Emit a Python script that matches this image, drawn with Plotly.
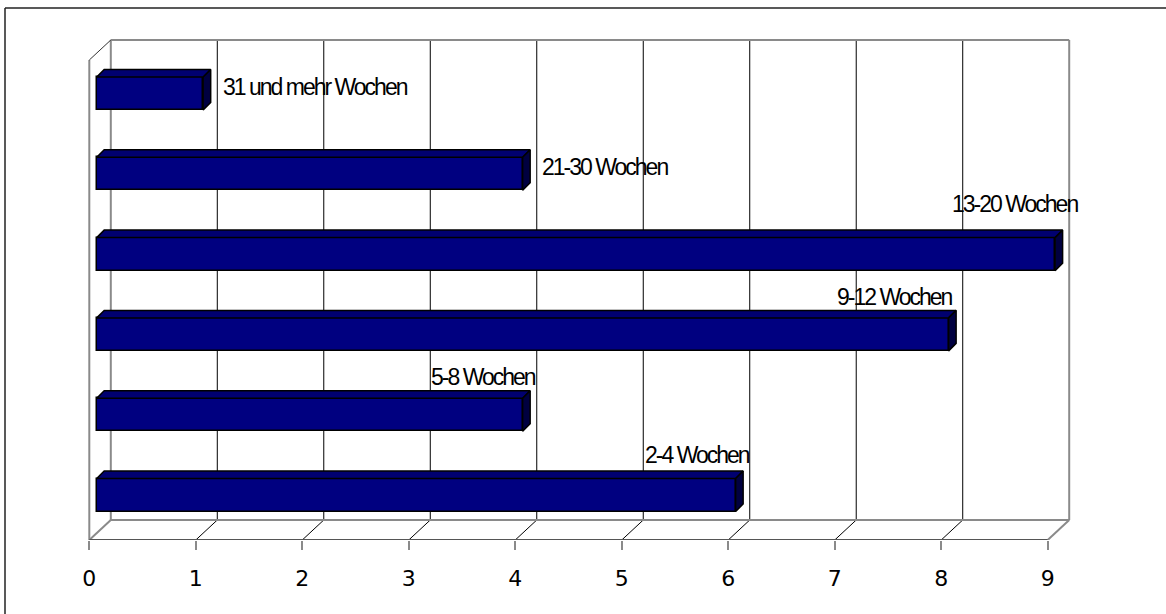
import plotly.graph_objects as go

# ---------------- data ----------------
categories = ["2-4 Wochen", "5-8 Wochen", "9-12 Wochen", "13-20 Wochen", "21-30 Wochen", "31 und mehr Wochen"]
values = [6, 4, 8, 9, 4, 1]
x_ticks = [0, 1, 2, 3, 4, 5, 6, 7, 8, 9]
x_tick_labels = ["0", "1", "2", "3", "4", "5", "6", "7", "8", "9"]

# ---------------- geometry (layout only) ----------------
W, H = 1166, 614
PXU = 106.49          # px per value unit
PYU = 80.3            # px per category step
X0_PX = 89.3          # px position of value 0 on front axis
PLOT_BOTTOM_PX = 540  # front floor line
CAT0_PX = 495         # px centre of first category bar
MB = H - PLOT_BOTTOM_PX

xr = [-X0_PX / PXU, (W - X0_PX) / PXU]
y0 = -(PLOT_BOTTOM_PX - CAT0_PX) / PYU
yr = [y0, y0 + PLOT_BOTTOM_PX / PYU]

def dx(px):
    return px / PXU

def dy(px):
    return px / PYU

FRONT_Y = y0
DEPTH_X = dx(21.5)
DEPTH_Y = dy(20)
BACK_Y = FRONT_Y + DEPTH_Y
TOP_BACK_Y = y0 + dy(PLOT_BOTTOM_PX - 40)
TOP_FRONT_Y = TOP_BACK_Y - DEPTH_Y
VMAX = x_ticks[-1]

BAR_BASE = dx(7.4)
BAR_H = dy(33)
BAR_DX = dx(7.5)
BAR_DY = dy(7.5)

NAVY = "#000080"
TOP_C = "#000070"
SIDE_C = "#000040"
GRAY = "#8a8a8a"

idx = list(range(len(categories)))

fig = go.Figure()

# front faces of bars
fig.add_trace(go.Bar(
    orientation="h", y=idx, x=values, base=BAR_BASE, width=BAR_H,
    marker=dict(color=NAVY, line=dict(color="black", width=1.5)),
    hoverinfo="skip", showlegend=False,
))

# top and side faces (derived from values)
top_x, top_y, side_x, side_y = [], [], [], []
for i, v in zip(idx, values):
    xl = BAR_BASE
    xrgt = BAR_BASE + v
    yt = i + BAR_H / 2
    yb = i - BAR_H / 2
    top_x += [xl, xrgt, xrgt + BAR_DX, xl + BAR_DX, xl, None]
    top_y += [yt, yt, yt + BAR_DY, yt + BAR_DY, yt, None]
    side_x += [xrgt, xrgt + BAR_DX, xrgt + BAR_DX, xrgt, xrgt, None]
    side_y += [yt, yt + BAR_DY, yb + BAR_DY, yb, yt, None]

fig.add_trace(go.Scatter(x=top_x, y=top_y, mode="lines", fill="toself",
                         fillcolor=TOP_C, line=dict(color="black", width=1.5),
                         hoverinfo="skip", showlegend=False))
fig.add_trace(go.Scatter(x=side_x, y=side_y, mode="lines", fill="toself",
                         fillcolor=SIDE_C, line=dict(color="black", width=1.5),
                         hoverinfo="skip", showlegend=False))

# ---------------- walls, floor and gridlines ----------------
shapes = []

def line(xa, ya, xb, yb, color, width):
    shapes.append(dict(type="line", xref="x", yref="y", x0=xa, y0=ya, x1=xb, y1=yb,
                       line=dict(color=color, width=width), layer="below"))

# back wall gridlines
for t in x_ticks[1:-1]:
    line(t + DEPTH_X, BACK_Y, t + DEPTH_X, TOP_BACK_Y, "black", 1)
    line(t, FRONT_Y, t + DEPTH_X, BACK_Y, "black", 1)
# back wall edges
line(DEPTH_X, TOP_BACK_Y, VMAX + DEPTH_X, TOP_BACK_Y, GRAY, 2)
line(VMAX + DEPTH_X, TOP_BACK_Y, VMAX + DEPTH_X, BACK_Y, GRAY, 2)
line(DEPTH_X, TOP_BACK_Y, DEPTH_X, BACK_Y, GRAY, 2)
# floor back edge
line(DEPTH_X, BACK_Y, VMAX + DEPTH_X, BACK_Y, GRAY, 2)
# floor side diagonals
line(0, FRONT_Y, DEPTH_X, BACK_Y, GRAY, 2)
line(VMAX, FRONT_Y, VMAX + DEPTH_X, BACK_Y, GRAY, 2)
# left wall
line(0, FRONT_Y, 0, TOP_FRONT_Y, GRAY, 2)
line(0, TOP_FRONT_Y, DEPTH_X, TOP_BACK_Y, "#333333", 1)
# front axis line
line(0, FRONT_Y, VMAX, FRONT_Y, "#555555", 2)

# outer frame (top + left visible)
shapes.append(dict(type="line", xref="paper", yref="paper",
                   x0=5 / W, x1=1.01, y0=1 - 8 / PLOT_BOTTOM_PX, y1=1 - 8 / PLOT_BOTTOM_PX,
                   line=dict(color="#222222", width=1.5)))
shapes.append(dict(type="line", xref="paper", yref="paper",
                   x0=5 / W, x1=5 / W, y0=1 - 8 / PLOT_BOTTOM_PX, y1=-MB / PLOT_BOTTOM_PX - 0.02,
                   line=dict(color="#222222", width=1.5)))

# ---------------- data labels ----------------
# per-label placement: (xanchor, xshift px, yshift px)
label_place = [
    ("right", 9, 40),
    ("right", 8, 38),
    ("right", -1, 37),
    ("right", 17, 50),
    ("left", 10, 7),
    ("left", 10, 7),
]
annotations = []
for i, (cat, v, (xa, xs, ys)) in enumerate(zip(categories, values, label_place)):
    annotations.append(dict(
        x=BAR_BASE + v + BAR_DX, y=i, xref="x", yref="y",
        text='<span style="letter-spacing:-2px">' + cat + '</span>',
        showarrow=False, xanchor=xa, yanchor="middle",
        xshift=xs, yshift=ys,
        font=dict(family="Liberation Sans, Arial", size=23, color="black"),
    ))

fig.update_layout(
    width=W, height=H,
    margin=dict(l=0, r=0, t=0, b=MB),
    paper_bgcolor="white", plot_bgcolor="white",
    shapes=shapes, annotations=annotations,
    bargap=0,
    xaxis=dict(range=xr, tickvals=x_ticks, ticktext=x_tick_labels,
               ticks="outside", ticklen=9, tickwidth=2, tickcolor=GRAY,
               ticklabelstandoff=10,
               showgrid=False, zeroline=False, showline=False,
               tickfont=dict(family="DejaVu Sans, Verdana", size=22, color="black"),
               fixedrange=True),
    yaxis=dict(range=yr, visible=False, showgrid=False, zeroline=False, fixedrange=True),
    showlegend=False,
)

fig.write_html("out.html")
